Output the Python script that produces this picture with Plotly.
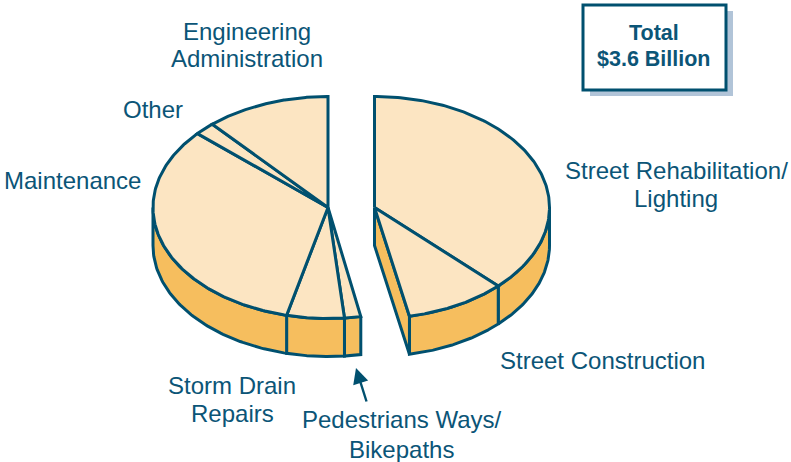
import numpy as np
import plotly.graph_objects as go

# Data (percent of total)
right_categories = ["Street Rehabilitation/ Lighting", "Street Construction"]
right_shares = [37.5, 9.3]
left_categories = ["Pedestrians Ways/ Bikepaths", "Storm Drain Repairs", "Maintenance", "Other",
                   "Engineering Administration"]
left_shares = [1.5, 5.3, 32.8, 1.9, 11.5]
total_lines = ["Total", "$3.6 Billion"]

W, H = 791, 462
RX, RY, DEPTH = 175, 111, 38
CY = 207.5
CX_LEFT, CX_RIGHT = 328, 374.5
TOP = "#FCE5C2"
SIDE = "#F6BE5E"
INK = "#00506F"
TEXT = "#0B5577"
FS = 24
LW = 3


def px(cx, deg):
    return cx + RX * np.sin(np.radians(deg))


def py(deg, drop=0):
    return CY - RY * np.cos(np.radians(deg)) + drop


fig = go.Figure()


def poly(xs, ys, fill, name):
    fig.add_trace(go.Scatter(x=list(xs), y=list(ys), mode="lines", fill="toself", fillcolor=fill,
                             line=dict(color=INK, width=LW, shape="linear"), hoverinfo="name",
                             name=name, showlegend=False))


def wedge_group(cx, start, shares, names):
    edges = start + np.cumsum([0] + list(shares)) * 3.6
    # side walls
    for a, b, n in zip(edges[:-1], edges[1:], names):
        a2, b2 = max(a, 90), min(b, 270)
        if a2 < b2:
            t = np.linspace(a2, b2, 80)
            poly(np.r_[px(cx, t), px(cx, t[::-1]), px(cx, t[0])],
                 np.r_[py(t), py(t[::-1], DEPTH), py(t[0])], SIDE, n)
    return edges


def tops(cx, edges, names):
    for a, b, n in zip(edges[:-1], edges[1:], names):
        t = np.linspace(a, b, 160)
        poly(np.r_[cx, px(cx, t), cx], np.r_[CY, py(t), CY], TOP, n)


right_edges = wedge_group(CX_RIGHT, 0.0, right_shares, right_categories)
# cut face of the right-hand block, seen from the front
cut = right_edges[-1]
poly([CX_RIGHT, px(CX_RIGHT, cut), px(CX_RIGHT, cut), CX_RIGHT, CX_RIGHT],
     [CY, py(cut), py(cut, DEPTH), CY + DEPTH, CY], SIDE, "cut face")
tops(CX_RIGHT, right_edges, right_categories)

left_start = 360 - sum(left_shares) * 3.6
left_edges = wedge_group(CX_LEFT, left_start, left_shares, left_categories)
tops(CX_LEFT, left_edges, left_categories)

label_lines = [
    ("Engineering", 247, 31), ("Administration", 247, 58),
    ("Other", 153, 109),
    ("Maintenance", 72.5, 180),
    ("Street Rehabilitation/", 676, 170), ("Lighting", 676, 198),
    ("Street Construction", 602.5, 360),
    ("Storm Drain", 232, 385), ("Repairs", 232, 413),
    ("Pedestrians Ways/", 401.5, 419), ("Bikepaths", 401, 449),
]
annotations = [dict(x=x, y=y, text=t, showarrow=False, xanchor="center", yanchor="middle", align="center",
                    font=dict(family="Liberation Sans", size=FS, color=TEXT))
               for t, x, y in label_lines]
for t, y in zip(total_lines, (33, 58.5)):
    annotations.append(dict(x=654, y=y, text=f"<b>{t}</b>", showarrow=False, xanchor="center", yanchor="middle",
                            align="center", font=dict(family="Liberation Sans", size=21.5, color=TEXT)))
annotations.append(dict(x=356, y=368, ax=367, ay=403, axref="x", ayref="y", xref="x", yref="y", text="",
                        showarrow=True, arrowhead=2, arrowsize=1.3, arrowwidth=2.4, arrowcolor=INK))

shapes = [
    dict(type="rect", x0=590, y0=11, x1=733, y1=96, fillcolor="#B1C4D8", line=dict(width=0), layer="below"),
    dict(type="rect", x0=583, y0=5, x1=726, y1=90, fillcolor="white", line=dict(color=INK, width=3), layer="below"),
]

fig.update_layout(
    width=W, height=H, margin=dict(l=0, r=0, t=0, b=0), paper_bgcolor="white", plot_bgcolor="white",
    xaxis=dict(range=[0, W], visible=False, fixedrange=True),
    yaxis=dict(range=[H, 0], visible=False, fixedrange=True),
    annotations=annotations, shapes=shapes, showlegend=False,
)
fig.write_html("out.html", config={"displayModeBar": False},
               post_script="document.body.style.margin='0';document.body.style.overflow='hidden';")
